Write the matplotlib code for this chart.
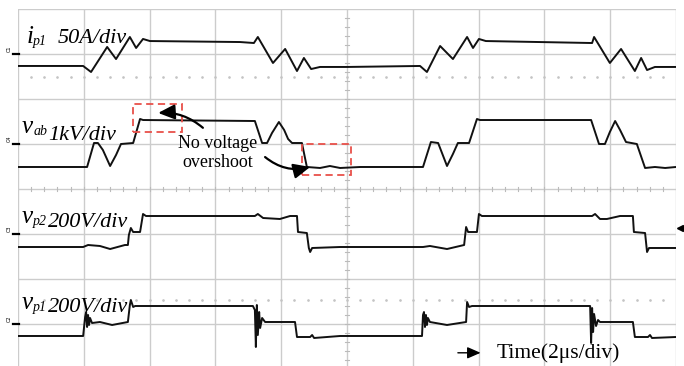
import numpy as np
import matplotlib
matplotlib.use("Agg")
import matplotlib.pyplot as plt
from matplotlib.patches import Rectangle, FancyArrowPatch

plt.rcParams['font.family'] = ['Liberation Serif', 'DejaVu Serif']

# scope screen: 10 div x 2us, 8 div vertical
# primary current i_p1 (A)
t_ip1 = [0.00, 1.98, 2.22, 2.71, 2.98, 3.40, 3.59, 3.80, 4.01, 6.75, 7.17, 7.29, 7.75,
         8.12, 8.48, 8.69, 8.91, 9.18, 10.00, 12.22, 12.43, 12.83, 13.22, 13.65, 13.83,
         14.01, 14.22, 17.45, 17.51, 17.99, 18.33, 18.75, 18.94, 19.12, 19.36, 20.00]
ip1 = [-13.3, -13.3, -20.0, 7.8, -5.6, 18.9, 6.7, 16.7, 14.4, 13.3, 12.2, 18.9, -10.0,
       5.6, -18.9, -4.4, -16.7, -14.4, -14.4, -13.3, -20.0, 8.9, -5.6, 18.9, 6.7,
       16.7, 14.4, 12.2, 18.9, -10.0, 5.6, -18.9, -4.4, -17.8, -14.4, -14.4]

# bridge voltage v_ab (V)
t_vab = [0.00, 2.10, 2.31, 2.43, 2.58, 2.80, 2.98, 3.13, 3.50, 3.71, 3.80, 7.20, 7.42,
         7.57, 7.72, 7.93, 8.09, 8.21, 8.33, 8.63, 8.78, 9.18, 9.48, 9.79, 10.40, 12.31,
         12.55, 12.77, 13.04, 13.22, 13.37, 13.71, 13.95, 14.04, 17.42, 17.66, 17.84,
         17.99, 18.15, 18.30, 18.48, 18.81, 19.06, 19.36, 19.67, 20.00]
vab = [-511, -511, 22, 22, -133, -489, -244, 0, 22, 556, 533, 511, 22,
       22, 244, 489, 311, 111, 22, 22, -511, -533, -489, -533, -511, -511,
       44, 22, -489, -222, 22, 22, 556, 533, 533, 0, 0,
       267, 511, 311, 44, 0, -533, -511, -533, -511]

# secondary voltage v_p2 (V)
t_vp2 = [0.00, 1.98, 2.13, 2.49, 2.80, 3.25, 3.34, 3.37, 3.43, 3.50, 3.71, 3.80, 3.89,
         7.20, 7.29, 7.45, 7.96, 8.27, 8.48, 8.51, 8.78, 8.84, 8.88, 8.94, 9.79, 12.31,
         12.52, 13.04, 13.56, 13.62, 13.68, 13.95, 14.01, 14.10, 17.45, 17.54, 17.69,
         17.90, 18.30, 18.69, 18.72, 19.06, 19.12, 19.18, 20.00]
vp2 = [-57.8, -57.8, -48.9, -53.3, -66.7, -48.9, -48.9, -4.4, 26.7, 8.9, 8.9, 88.9, 80.0,
       80.0, 88.9, 71.1, 66.7, 80.0, 80.0, 8.9, 4.4, -62.2, -80.0, -62.2, -57.8, -57.8,
       -53.3, -66.7, -48.9, 31.1, 8.9, 8.9, 88.9, 80.0, 80.0, 88.9, 66.7,
       66.7, 80.0, 80.0, 8.9, 4.4, -80.0, -62.2, -62.2]

# primary voltage v_p1 (V)
t_vp1 = [0.00, 1.98, 2.04, 2.07, 2.10, 2.13, 2.16, 2.19, 2.25, 2.49, 2.86, 3.34, 3.40,
         3.43, 3.50, 3.56, 7.14, 7.20, 7.23, 7.26, 7.29, 7.33, 7.36, 7.42, 7.51, 8.42,
         8.48, 8.88, 8.94, 9.00, 9.79, 12.28, 12.31, 12.34, 12.37, 12.40, 12.43, 12.46,
         12.52, 13.04, 13.62, 13.65, 13.71, 13.80, 17.39, 17.42, 17.45, 17.48, 17.51,
         17.57, 17.63, 17.69, 18.69, 18.75, 19.15, 19.21, 19.27, 20.00]
vp1 = [-53.3, -53.3, 31.1, 53.3, -13.3, 40.0, -4.4, 26.7, 4.4, 8.9, -4.4, 8.9, 84.4,
       106.7, 75.6, 80.0, 80.0, 62.2, -102.2, 84.4, -48.9, 53.3, -17.8, 26.7, 8.9, 8.9,
       -57.8, -57.8, -48.9, -62.2, -53.3, -53.3, 40.0, 53.3, -13.3, 40.0, -4.4, 26.7,
       8.9, -4.4, 8.9, 97.8, 75.6, 80.0, 80.0, -84.4, 71.1, -35.6, 44.4,
       -8.9, 17.8, 8.9, 8.9, -57.8, -57.8, -48.9, -62.2, -57.8]

# name, ground position (div), scale per div, data
channels = [("C1", 7, 50, t_ip1, ip1),
            ("C4", 5, 1000, t_vab, vab),
            ("C3", 3, 200, t_vp2, vp2),
            ("C2", 1, 200, t_vp1, vp1)]

# label pieces: symbol, subscript, scale text, x of each, baselines
labels = [("i", "p1", "50A/div", 0.27, 0.45, 1.22, 7.24, 7.19, 7.24),
          ("v", "ab", "1kV/div", 0.12, 0.46, 0.91, 5.24, 5.20, 5.09),
          ("v", "p2", "200V/div", 0.12, 0.46, 0.91, 3.24, 3.20, 3.16),
          ("v", "p1", "200V/div", 0.12, 0.46, 0.91, 1.33, 1.29, 1.27)]

fig = plt.figure(figsize=(6.84, 3.66), dpi=100)
ax = fig.add_axes([18 / 684, -3 / 366, 658 / 684, 360 / 366])
ax.set_xlim(0, 20)
ax.set_ylim(0, 8)
ax.axis('off')

grid_c = '#cccccc'
for x in range(0, 21, 2):
    ax.axvline(x, color=grid_c, lw=1.0, zorder=1)
for y in range(0, 9):
    ax.axhline(y, color=grid_c, lw=1.0, zorder=1)
# small ticks on the centre lines
for x in np.arange(0.4, 20, 0.4):
    ax.plot([x, x], [3.95, 4.05], color='#bbbbbb', lw=0.8, zorder=1)
for y in np.arange(0.2, 8, 0.2):
    ax.plot([9.94, 10.06], [y, y], color='#bbbbbb', lw=0.8, zorder=1)
# dotted rows
for yd in (6.5, 1.53):
    xs = np.arange(0.4, 20, 0.4)
    ax.scatter(xs, np.full_like(xs, yd), s=0.8, color='#c4c4c4', zorder=1)

for name, gnd, scale, t, v in channels:
    y = gnd + np.array(v) / scale
    ax.plot(t, y, color='#111111', lw=1.4, zorder=3)
    ax.plot([-0.14, 0.04], [gnd, gnd], color='black', lw=1.6, clip_on=False, zorder=4)
    ax.text(-0.28, gnd + 0.05, name, fontsize=3.5, rotation=90, ha='center',
            va='bottom', family='DejaVu Sans', clip_on=False)

ax.plot([20.12], [3.13], marker='<', color='black', ms=4, clip_on=False)

# channel labels
for sym, sub, txt, xs, xb, xt, ys, yb, yt in labels:
    ax.text(xs, ys, sym, fontsize=18, fontstyle='italic', va='baseline', zorder=5)
    ax.text(xb, yb, sub, fontsize=10, fontstyle='italic', va='baseline', zorder=5)
    ax.text(xt, yt, txt, fontsize=16, fontstyle='italic', va='baseline', zorder=5)

# overshoot remarks
red = '#e8504a'
for (x0, x1, y0, y1) in [(3.50, 4.98, 5.27, 5.89), (8.63, 10.12, 4.31, 5.00)]:
    ax.add_patch(Rectangle((x0, y0), x1 - x0, y1 - y0, fill=False, edgecolor=red,
                           lw=1.3, ls=(0, (4, 2.5)), zorder=6))
ax.text(6.08, 4.91, 'No voltage', fontsize=13, ha='center', va='baseline', zorder=6)
ax.text(6.08, 4.49, 'overshoot', fontsize=13, ha='center', va='baseline', zorder=6)
head = '-|>,head_length=10,head_width=4.5'
ax.add_patch(FancyArrowPatch((5.62, 5.36), (4.26, 5.69), arrowstyle=head,
                             connectionstyle='arc3,rad=0.2', color='black', lw=1.6,
                             shrinkA=0, shrinkB=0, zorder=7))
ax.add_patch(FancyArrowPatch((7.51, 4.71), (8.88, 4.49), arrowstyle=head,
                             connectionstyle='arc3,rad=0.25', color='black', lw=1.6,
                             shrinkA=0, shrinkB=0, zorder=7))

# time base
ax.add_patch(FancyArrowPatch((13.37, 0.36), (14.06, 0.36), arrowstyle='-|>,head_length=8,head_width=3.5',
                             color='black', lw=1.0, shrinkA=0, shrinkB=0, zorder=7))
ax.text(14.56, 0.24, 'Time(2μs/div)', fontsize=15.5, va='baseline', zorder=7)

fig.savefig('out.png', dpi=100)
